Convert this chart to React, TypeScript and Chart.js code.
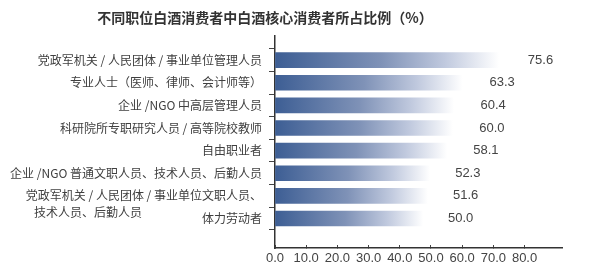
import React, { useEffect, useRef } from "react";
import { Chart, registerables } from "chart.js";

Chart.register(...registerables);

const TITLE = "不同职位白酒消费者中白酒核心消费者所占比例（%）";

const categories: (string | string[])[] = [
  "党政军机关 / 人民团体 / 事业单位管理人员",
  "专业人士（医师、律师、会计师等）",
  "企业 /NGO 中高层管理人员",
  "科研院所专职研究人员 / 高等院校教师",
  "自由职业者",
  "企业 /NGO 普通文职人员、技术人员、后勤人员",
  ["", "党政军机关 / 人民团体 / 事业单位文职人员、", "技术人员、后勤人员\u3000\u3000\u3000\u3000\u3000\u3000\u3000\u3000\u3000\u3000"],
  "体力劳动者",
];

const values = [75.6, 63.3, 60.4, 60.0, 58.1, 52.3, 51.6, 50.0];

const xTickValues = [0, 10, 20, 30, 40, 50, 60, 70, 80];

const FONT = '"Liberation Sans", "Noto Sans CJK SC", sans-serif';

const titlePlugin = {
  id: "customTitle",
  afterDraw(chart: any) {
    const c = chart.ctx;
    c.save();
    c.font = 'bold 14px "Noto Sans CJK SC", sans-serif';
    c.fillStyle = "#333333";
    c.textAlign = "center";
    c.textBaseline = "middle";
    c.fillText(TITLE, 265, 18);
    c.restore();
  },
};

const valueLabelPlugin = {
  id: "valueLabels",
  afterDatasetsDraw(chart: any) {
    const c = chart.ctx;
    const meta = chart.getDatasetMeta(0);
    c.save();
    c.font = "13px " + FONT;
    c.fillStyle = "#444444";
    c.textAlign = "left";
    c.textBaseline = "middle";
    meta.data.forEach((el: any, i: number) => {
      c.fillText(values[i].toFixed(1), el.x + 17, el.y);
    });
    c.restore();
  },
};

export default function App() {
  const ref = useRef<HTMLCanvasElement>(null);

  useEffect(() => {
    if (!ref.current) return;
    const chart = new Chart(ref.current, {
      type: "bar",
      data: {
        datasets: [
          {
            data: values.map((v, i) => ({ x: v, y: i })),
            barThickness: 15,
            borderWidth: 0,
            backgroundColor: (ctx: any) => {
              const ch = ctx.chart;
              if (!ch.chartArea || !ch.scales.x) return "#3f6096";
              const xs = ch.scales.x;
              const v = values[ctx.dataIndex] ?? 0;
              const x0 = xs.getPixelForValue(0);
              const x1 = xs.getPixelForValue(v);
              const g = ch.ctx.createLinearGradient(x0, 0, x1, 0);
              g.addColorStop(0, "#3d5e94");
              g.addColorStop(0.45, "#7f92b7");
              g.addColorStop(0.72, "#c0c9de");
              g.addColorStop(0.95, "#ffffff");
              g.addColorStop(1, "#ffffff");
              return g;
            },
          },
        ],
      },
      options: {
        indexAxis: "y",
        responsive: false,
        animation: false,
        layout: { padding: { top: 36, right: 38, left: 0, bottom: 0 } },
        plugins: {
          legend: { display: false },
          title: { display: false },
          tooltip: { enabled: false },
        },
        scales: {
          x: {
            type: "linear",
            min: 0,
            max: 92,
            afterBuildTicks: (s: any) => {
              s.ticks = xTickValues.map((v) => ({ value: v }));
            },
            afterFit: (s: any) => {
              s.height = 23;
            },
            ticks: {
              autoSkip: false,
              maxRotation: 0,
              padding: 6,
              color: "#444444",
              font: { family: FONT, size: 13 },
              callback: (v: any) => Number(v).toFixed(1),
            },
            grid: {
              drawOnChartArea: false,
              drawTicks: true,
              tickLength: -3,
              color: "#444444",
              lineWidth: 1,
            },
            border: { display: true, color: "#333333", width: 1.5 },
          },
          y: {
            type: "linear",
            reverse: true,
            min: -0.48,
            max: 7.72,
            afterBuildTicks: (s: any) => {
              s.ticks = categories.map((_, i) => ({ value: i }));
            },
            afterFit: (s: any) => {
              s.width = 275;
            },
            ticks: {
              autoSkip: false,
              padding: 7,
              color: "#404040",
              font: { family: '"Noto Sans CJK SC", "Liberation Sans", sans-serif', size: 12, lineHeight: 1.35 },
              callback: (v: any) => categories[Math.round(Number(v))] ?? "",
            },
            grid: {
              drawOnChartArea: false,
              drawTicks: true,
              tickLength: 6,
              color: "#444444",
              lineWidth: 1,
            },
            border: { display: true, color: "#333333", width: 1.5 },
          },
        },
      } as any,
      plugins: [titlePlugin, valueLabelPlugin],
    });
    return () => chart.destroy();
  }, []);

  return (
    <div style={{ position: "fixed", left: 0, top: 0, width: 600, height: 271, background: "#ffffff" }}>
      <canvas ref={ref} width={600} height={271} style={{ display: "block" }} />
    </div>
  );
}
